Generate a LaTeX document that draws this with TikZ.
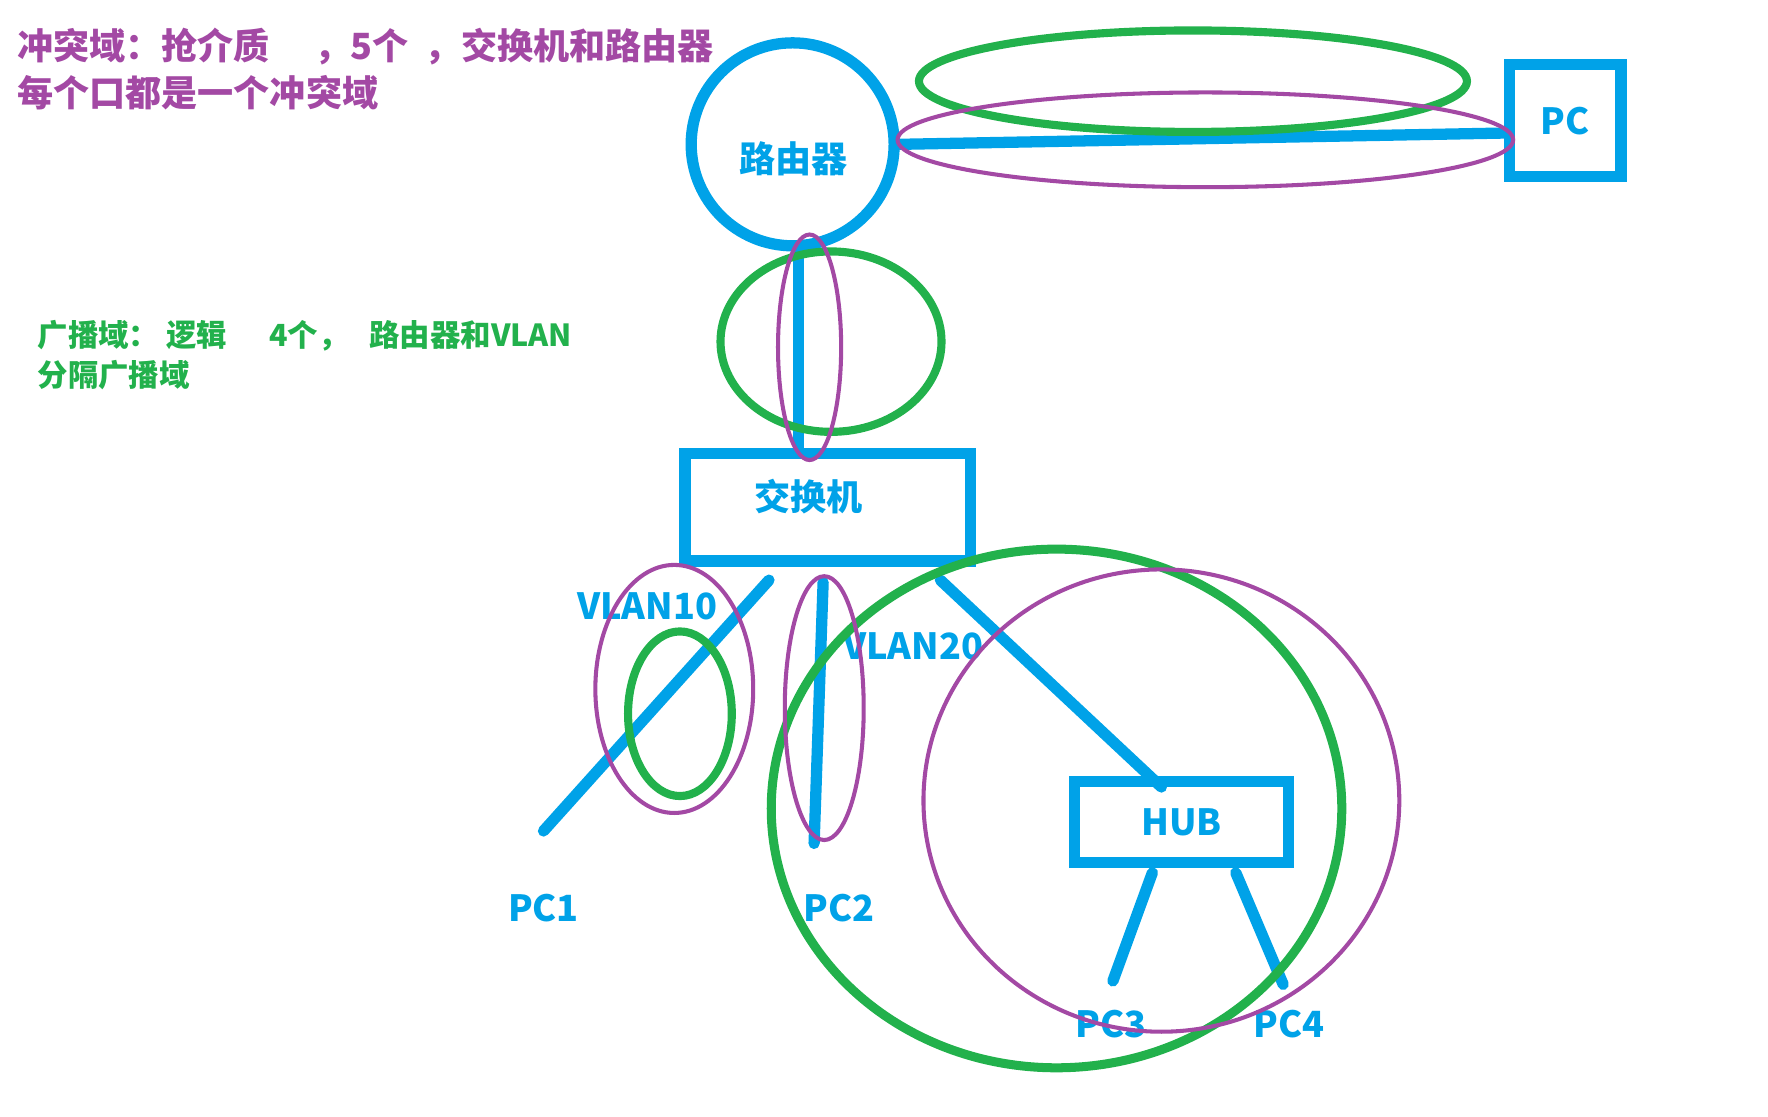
\documentclass[tikz,border=0pt]{standalone}
\usepackage{fontspec}
\setmainfont{Noto Sans CJK SC}
\usepackage{xcolor}
\usepackage{tikz}
\usetikzlibrary{positioning, shapes.geometric}
\definecolor{nwBlue}{RGB}{0, 162, 232}
\definecolor{nwPurple}{RGB}{163, 73, 164}
\definecolor{nwGreen}{RGB}{34, 177, 76}
\tikzset{
    base/.style={
        font=\bfseries,
        align=left,
        inner sep=0pt
    },
    device/.style={
        base,
        rectangle,
        draw=nwBlue,
        line width=5pt,
        text=nwBlue,
        font=\fontsize{16pt}{19pt}\selectfont\bfseries
    },
    router/.style={
        circle,
        draw=nwBlue,
        line width=5pt,
        minimum size=90pt,
        inner sep=0pt
    },
    devlabel/.style={
        base,
        text=nwBlue,
        font=\fontsize{16pt}{19pt}\selectfont\bfseries
    },
    link/.style={
        draw=nwBlue,
        line width=5pt,
        line cap=round
    },
    collide/.style={
        draw=nwPurple,
        line width=1.8pt
    },
    broadcast/.style={
        draw=nwGreen,
        line width=3.6pt
    },
    note/.style={
        base,
        anchor=west,
        font=\fontsize{16pt}{21pt}\selectfont\bfseries
    }
}

\begin{document}
\begin{tikzpicture}[x=0.5pt, y=-0.5pt]
  \useasboundingbox (0,0) rectangle (1568,990);

  % Notes
  \node[note, text=nwPurple] (collNote) at (15,61)
    {冲突域：抢介质　\ ，5个\ \ ，交换机和路由器\\每个口都是一个冲突域};
  \node[note, text=nwGreen, font=\fontsize{13.5pt}{18pt}\selectfont\bfseries] (bcNote) at (33,315)
    {广播域：\ 逻辑\ \ \ \ \ \ 4个，\ \ \ 路由器和VLAN\\分隔广播域};

  % Devices
  \node[router] (router) at (703,128) {};
  \node[devlabel] (routerText) at (704,141) {路由器};
  \node[device, minimum width=49.5pt, minimum height=49.5pt] (pc) at (1388,107) {PC};
  \node[device, minimum width=126.5pt, minimum height=47.5pt] (switch) at (734,450) {};
  \node[devlabel] (switchText) at (717,440) {交换机};
  \node[device, minimum width=95pt, minimum height=36pt] (hub) at (1048,729) {HUB};

  % Labels
  \node[devlabel] (vlan10) at (574,538) {VLAN10};
  \node[devlabel] (vlan20) at (810,573) {VLAN20};
  \node[devlabel] (pc1) at (482,805) {PC1};
  \node[devlabel] (pc2) at (744,805) {PC2};
  \node[devlabel] (pc3) at (985,908) {PC3};
  \node[devlabel] (pc4) at (1143,908) {PC4};

  % Cable ends
  \coordinate (endA) at (482,737);
  \coordinate (endB) at (722,748);
  \coordinate (endC) at (987,870);
  \coordinate (endD) at (1138,873);

  % Links
  \draw[link] (router.east) -- ([yshift=-5.5pt]pc.west);
  \draw[link] ([xshift=2.5pt]router.south) -- ([xshift=2.5pt]router.south |- switch.north);
  \draw[link] ([xshift=-26pt, yshift=-6pt]switch.south) -- (endA);
  \draw[link] ([xshift=-2pt, yshift=-7pt]switch.south) -- (endB);
  \draw[link] ([xshift=50pt, yshift=-6pt]switch.south) -- ([xshift=-9pt, yshift=-5pt]hub.north);
  \draw[link] ([xshift=-13pt, yshift=-2pt]hub.south) -- (endC);
  \draw[link] ([xshift=24pt, yshift=-2pt]hub.south) -- (endD);

  % Broadcast domains
  \draw[broadcast] (1058,72) ellipse [x radius=243, y radius=45];
  \draw[broadcast] (737,303) ellipse [x radius=98, y radius=80];
  \draw[broadcast] (603,633) ellipse [x radius=46, y radius=73];
  \draw[broadcast, line width=4pt] (937,717) ellipse [x radius=253, y radius=230];

  % Collision domains
  \draw[collide] (1069,124) ellipse [x radius=273, y radius=42];
  \draw[collide] (718,308) ellipse [x radius=28, y radius=100];
  \draw[collide] (598,611) ellipse [x radius=70, y radius=110];
  \draw[collide] (731,628) ellipse [x radius=35, y radius=117];
  \draw[collide] (1030,710) ellipse [x radius=211, y radius=205];
\end{tikzpicture}
\end{document}
